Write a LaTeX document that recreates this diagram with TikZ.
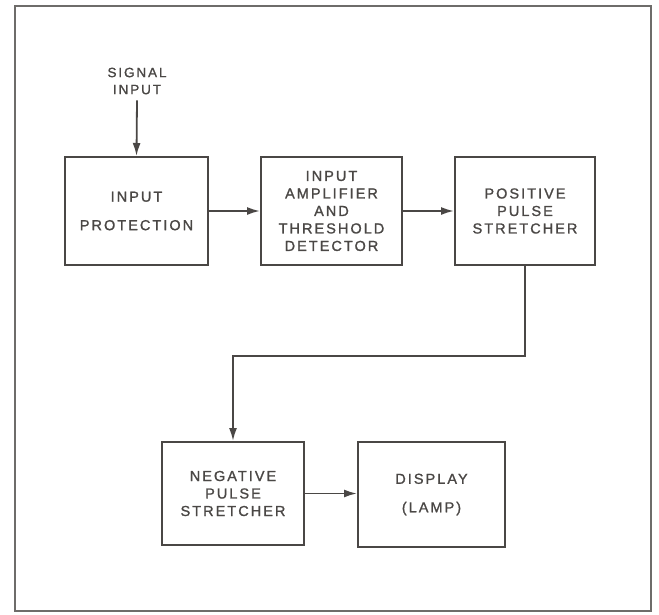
\documentclass[tikz,border=0pt]{standalone}
\usepackage{fontspec}
\setmainfont{Liberation Sans}[LetterSpace=14, FakeBold=1.2]
\usetikzlibrary{arrows.meta}
\definecolor{ink}{HTML}{4A4745}
\definecolor{framec}{HTML}{6E6C6A}
\tikzset{
  blk/.style={draw=ink, line width=2pt, align=center, inner sep=0pt,
    font=\fontsize{14.5}{17.5}\selectfont, text=ink},
  conn/.style={draw=ink, line width=1.8pt, -{Latex[length=13pt,width=8pt]}},
  lbl/.style={align=center, inner sep=0pt, font=\fontsize{13.5}{17}\selectfont, text=ink}
}
\begin{document}
\begin{tikzpicture}[x=1pt,y=-1pt]
\useasboundingbox (0,0) rectangle (659,614);
\draw[framec, line width=2pt] (15,6) rectangle (651,611);
\node[lbl] (sig) at (137,81) {SIGNAL\\INPUT};
\node[blk, minimum width=143pt, minimum height=108pt] (prot) at (136.5,211) {INPUT\\[11pt]PROTECTION};
\node[blk, minimum width=141pt, minimum height=108pt] (amp) at (331.5,211) {INPUT\\AMPLIFIER\\AND\\THRESHOLD\\DETECTOR};
\node[blk, minimum width=140pt, minimum height=108pt] (pos) at (525,211) {POSITIVE\\PULSE\\STRETCHER};
\node[blk, minimum width=142pt, minimum height=103pt] (neg) at (233,493.5) {NEGATIVE\\PULSE\\STRETCHER};
\node[blk, minimum width=147pt, minimum height=105pt] (disp) at (431.5,494.5) {DISPLAY\\[11pt](LAMP)};
\coordinate (fb) at (525,356);
\draw[conn] (sig.south) ++(0,6) -- (prot.north);
\draw[conn] (prot.east) -- (amp.west);
\draw[conn] (amp.east) -- (pos.west);
\draw[conn] (pos.south) -- (fb) -| (neg.north);
\draw[conn] (neg.east) -- (neg.east -| disp.west);
\end{tikzpicture}
\end{document}
